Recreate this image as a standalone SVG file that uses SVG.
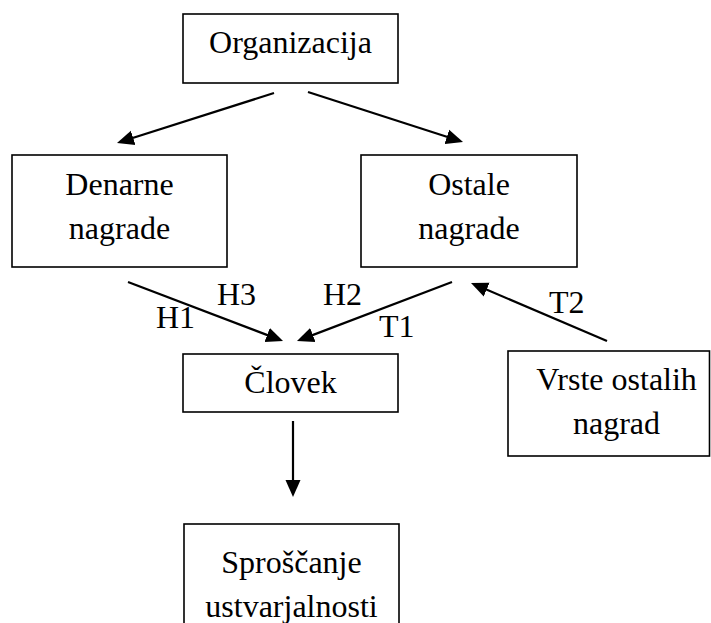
<svg xmlns="http://www.w3.org/2000/svg" width="711" height="623" viewBox="0 0 711 623">
<style>
.box{fill:#fff;stroke:#000;stroke-width:1.6}
.t{font-family:"Liberation Serif","Times New Roman",serif;font-size:32px;fill:#000}
.c{text-anchor:middle}
.ln{stroke:#000;stroke-width:2.2;fill:none;marker-end:url(#ah)}
</style>
<defs>
<marker id="ah" markerUnits="userSpaceOnUse" markerWidth="18" markerHeight="16" refX="13" refY="7.5" orient="auto" viewBox="0 0 18 15">
<path d="M0,0 L17,7.5 L0,15 z" fill="#000"/>
</marker>
</defs>
<rect width="711" height="623" fill="#fff"/>
<g id="connectors">
<line class="ln" x1="274" y1="93" x2="120.8" y2="141.8"/>
<line class="ln" x1="308" y1="92" x2="459.2" y2="140.8"/>
<line class="ln" x1="128" y1="282" x2="279.3" y2="339.6"/>
<line class="ln" x1="452" y1="282" x2="300.7" y2="339.6"/>
<line class="ln" x1="607" y1="341" x2="474.7" y2="284.6"/>
<line class="ln" x1="293" y1="421" x2="293" y2="493"/>
<text class="t" x="217" y="305">H3</text>
<text class="t" x="156" y="328">H1</text>
<text class="t" x="323" y="305">H2</text>
<text class="t" x="379" y="337">T1</text>
<text class="t" x="549" y="313">T2</text>
</g>
<g id="organizacija">
<rect class="box" x="183" y="14" width="215" height="69"/>
<text class="t c" x="290.5" y="53">Organizacija</text>
</g>
<g id="denarne">
<rect class="box" x="12" y="155" width="215" height="112"/>
<text class="t c" x="119.5" y="195">Denarne</text>
<text class="t c" x="119.5" y="239">nagrade</text>
</g>
<g id="ostale">
<rect class="box" x="361" y="155" width="216" height="112"/>
<text class="t c" x="469" y="195">Ostale</text>
<text class="t c" x="469" y="239">nagrade</text>
</g>
<g id="clovek">
<rect class="box" x="183" y="354" width="215" height="58"/>
<text class="t c" x="290.5" y="393">Človek</text>
</g>
<g id="vrste">
<rect class="box" x="508" y="351" width="201.5" height="105"/>
<text class="t c" x="616.5" y="390">Vrste ostalih</text>
<text class="t c" x="616.5" y="434">nagrad</text>
</g>
<g id="sproscanje">
<rect class="box" x="184" y="524" width="215" height="120"/>
<text class="t c" x="291.5" y="573">Sproščanje</text>
<text class="t c" x="291.5" y="617">ustvarjalnosti</text>
</g>
</svg>
